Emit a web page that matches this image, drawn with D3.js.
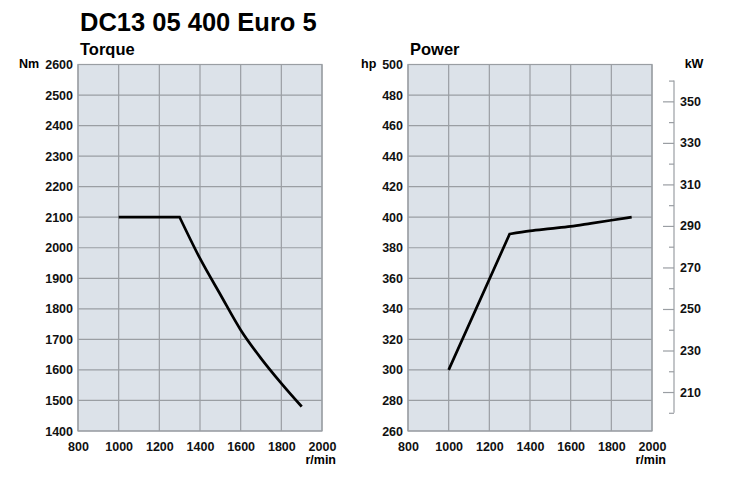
<!DOCTYPE html>
<html>
<head>
<meta charset="utf-8">
<script src="https://cdn.jsdelivr.net/npm/d3@7"></script>
<style>
  body { margin: 0; background: #fff; }
  svg { display: block; font-family: "Liberation Sans", Arial, sans-serif; }
  .tick text { font-weight: bold; font-size: 12.5px; fill: #111; }
</style>
</head>
<body>
<div id="chart"></div>
<script>
// engine curves
var rpmTicks = [800, 1000, 1200, 1400, 1600, 1800, 2000];
var torqueTicks = [1400, 1500, 1600, 1700, 1800, 1900, 2000, 2100, 2200, 2300, 2400, 2500, 2600];
var hpTicks = [260, 280, 300, 320, 340, 360, 380, 400, 420, 440, 460, 480, 500];
var kwTicks = [210, 230, 250, 270, 290, 310, 330, 350];
var kwMinorTicks = [200, 220, 240, 260, 280, 300, 320, 340, 360];

var torqueRpm = [1000, 1300, 1400, 1500, 1600, 1700, 1800, 1900];
var torqueNm  = [2100, 2100, 1965, 1847, 1731, 1638, 1556, 1480];

var powerRpm = [1000, 1300, 1400, 1500, 1600, 1700, 1800, 1900];
var powerHp  = [300, 389, 391, 392.5, 394, 396, 398, 400];

var HP_TO_KW = 0.7355; // metric hp

var W = 739, H = 486;
var svg = d3.select("#chart").append("svg")
    .attr("width", W)
    .attr("height", H);

svg.append("text")
    .attr("x", 80).attr("y", 31)
    .style("font-size", "25.5px").style("font-weight", "bold")
    .text("DC13 05 400 Euro 5");

var plotTop = 64.5, plotBottom = 431;
var GRID = "#9a9ea3";

function panel(opts) {
  var x = d3.scaleLinear().domain([800, 2000]).range([opts.left, opts.right]);
  var y = d3.scaleLinear().domain(opts.yDomain).range([plotBottom, plotTop]);
  var g = svg.append("g");

  g.append("text")
      .attr("x", opts.left + 2).attr("y", 55)
      .style("font-size", "16.5px").style("font-weight", "bold")
      .text(opts.title);

  g.append("rect")
      .attr("x", opts.left).attr("y", plotTop)
      .attr("width", opts.right - opts.left)
      .attr("height", plotBottom - plotTop)
      .attr("fill", "#dce2e9")
      .attr("stroke", GRID)
      .attr("stroke-width", 1.2);

  g.selectAll(".hgrid").data(opts.yTicks).enter().append("line")
      .attr("x1", opts.left).attr("x2", opts.right)
      .attr("y1", function(d) { return y(d); })
      .attr("y2", function(d) { return y(d); })
      .attr("stroke", GRID).attr("stroke-width", 1.2);

  g.selectAll(".vgrid").data(rpmTicks).enter().append("line")
      .attr("x1", function(d) { return x(d); })
      .attr("x2", function(d) { return x(d); })
      .attr("y1", plotTop).attr("y2", plotBottom)
      .attr("stroke", GRID).attr("stroke-width", 1.2);

  var yAxis = d3.axisLeft(y).tickValues(opts.yTicks).tickSize(0).tickPadding(5).tickFormat(d3.format("d"));
  g.append("g")
      .attr("transform", "translate(" + opts.left + ",0)")
      .call(yAxis)
      .call(function(a) { a.select(".domain").remove(); });

  var xAxis = d3.axisBottom(x).tickValues(rpmTicks).tickSize(0).tickPadding(8).tickFormat(d3.format("d"));
  g.append("g")
      .attr("transform", "translate(0," + plotBottom + ")")
      .call(xAxis)
      .call(function(a) { a.select(".domain").remove(); })
      .selectAll("text").attr("dy", "0.92em");

  g.append("text")
      .attr("x", opts.unitX).attr("y", 68)
      .style("font-size", "12.5px").style("font-weight", "bold")
      .text(opts.unit);

  g.append("text")
      .attr("x", opts.right + 14).attr("y", 464)
      .attr("text-anchor", "end")
      .style("font-size", "12.5px").style("font-weight", "bold")
      .text("r/min");

  // straight ramp up to the corner at 1300 r/min, smooth curve after it
  var pts = d3.zip(opts.rpm, opts.values);
  var straight = d3.line()
      .x(function(d) { return x(d[0]); })
      .y(function(d) { return y(d[1]); });
  var smooth = d3.line()
      .curve(d3.curveMonotoneX)
      .x(function(d) { return x(d[0]); })
      .y(function(d) { return y(d[1]); });

  g.append("path")
      .attr("d", straight(pts.slice(0, 2)) + smooth(pts.slice(1)).replace(/^M[^CL]*/, ""))
      .attr("fill", "none")
      .attr("stroke", "#000")
      .attr("stroke-width", 2.7)
      .attr("stroke-linejoin", "miter");

  return {x: x, y: y, g: g};
}

panel({
  left: 78, right: 322, title: "Torque",
  yDomain: [1400, 2600], yTicks: torqueTicks,
  rpm: torqueRpm, values: torqueNm,
  unit: "Nm", unitX: 19
});

var power = panel({
  left: 408, right: 652, title: "Power",
  yDomain: [260, 500], yTicks: hpTicks,
  rpm: powerRpm, values: powerHp,
  unit: "hp", unitX: 361
});

// kW scale on the right, same pixels as the hp scale
var kw = d3.scaleLinear()
    .domain([260 * HP_TO_KW, 500 * HP_TO_KW])
    .range(power.y.range());

var kwG = svg.append("g").attr("transform", "translate(674,0)");

kwG.append("line")
    .attr("x1", 0).attr("x2", 0)
    .attr("y1", kw(200)).attr("y2", kw(360))
    .attr("stroke", GRID).attr("stroke-width", 1.2);

kwG.append("g")
    .call(d3.axisRight(kw).tickValues(kwMinorTicks).tickSizeInner(-5).tickSizeOuter(0).tickFormat(""))
    .call(function(a) { a.select(".domain").remove(); a.selectAll("line").attr("stroke", GRID).attr("stroke-width", 1.2); });

kwG.append("g")
    .call(d3.axisRight(kw).tickValues(kwTicks).tickSizeInner(-11).tickSizeOuter(0).tickPadding(6))
    .call(function(a) { a.select(".domain").remove(); a.selectAll("line").attr("stroke", GRID).attr("stroke-width", 1.2); });

kwG.append("text")
    .attr("x", 20).attr("y", 68)
    .attr("text-anchor", "middle")
    .style("font-size", "12.5px").style("font-weight", "bold")
    .text("kW");
</script>
</body>
</html>
